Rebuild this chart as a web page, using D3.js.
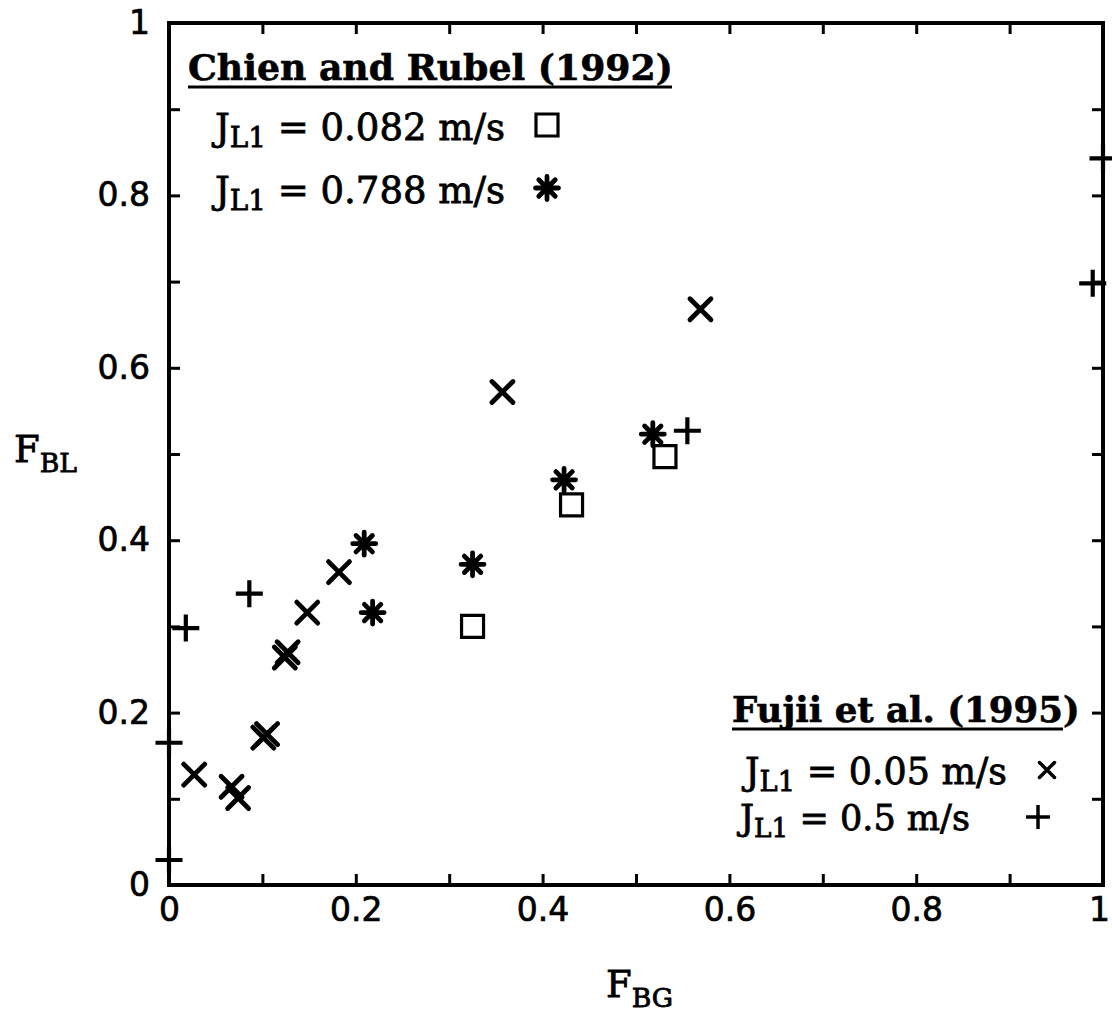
<!DOCTYPE html>
<html>
<head>
<meta charset="utf-8">
<script src="https://cdn.jsdelivr.net/npm/d3@7"></script>
<style>
body { margin: 0; background: #fff; }
</style>
</head>
<body>
<svg id="chart" width="1112" height="1012"></svg>
<script>
// Chien and Rubel (1992)
var squareData = [[0.325, 0.300], [0.431, 0.441], [0.531, 0.497]];          // J_L1 = 0.082 m/s
var starData = [[0.209, 0.396], [0.218, 0.316], [0.325, 0.372], [0.423, 0.470], [0.518, 0.523]]; // J_L1 = 0.788 m/s
// Fujii et al. (1995)
var crossData = [[0.027, 0.128], [0.067, 0.114], [0.074, 0.101], [0.101, 0.171], [0.105, 0.175],
    [0.124, 0.264], [0.127, 0.270], [0.148, 0.316], [0.182, 0.363], [0.357, 0.572], [0.569, 0.668]]; // 0.05 m/s
var plusData = [[0.018, 0.298], [0.086, 0.338], [0.555, 0.527], [0.0, 0.165], [0.0, 0.029],
    [1.0, 0.843], [0.989, 0.698]]; // 0.5 m/s
var ticks = [0, 0.1, 0.2, 0.3, 0.4, 0.5, 0.6, 0.7, 0.8, 0.9, 1];

var svg = d3.select("#chart");
var x = d3.scaleLinear().domain([0, 1]).range([169, 1103]);
var y = d3.scaleLinear().domain([0, 1]).range([885, 23]);

var fmt = function (d) {
    var k = Math.round(d * 10);
    if (k % 2) return "";
    return k == 0 ? "0" : k == 10 ? "1" : "0." + k;
};

function styleAxis(g) {
    g.select(".domain").remove();
    g.attr("font-family", "'DejaVu Sans', sans-serif").attr("font-size", 33);
    g.selectAll(".tick line").attr("stroke", "#000").attr("stroke-width", 3);
    g.selectAll(".tick text").attr("fill", "#000")
        .attr("stroke", "#000").attr("stroke-width", 0.7);
}

var bottom = svg.append("g").attr("transform", "translate(0,885)")
    .call(d3.axisBottom(x).tickValues(ticks).tickSize(-11).tickPadding(13).tickFormat(fmt))
    .call(styleAxis);
// last label sits on the page edge, nudge it in a little
bottom.selectAll(".tick text").filter(function (d) { return d == 1; }).attr("dx", -4);
svg.append("g").attr("transform", "translate(0,23)")
    .call(d3.axisTop(x).tickValues(ticks).tickSize(-11).tickFormat(""))
    .call(styleAxis);
svg.append("g").attr("transform", "translate(169,0)")
    .call(d3.axisLeft(y).tickValues(ticks).tickSize(-11).tickPadding(19).tickFormat(fmt))
    .call(styleAxis);
svg.append("g").attr("transform", "translate(1103,0)")
    .call(d3.axisRight(y).tickValues(ticks).tickSize(-11).tickFormat(""))
    .call(styleAxis);

svg.append("rect")
    .attr("x", x(0)).attr("y", y(1))
    .attr("width", x(1) - x(0)).attr("height", y(0) - y(1))
    .attr("fill", "none").attr("stroke", "#000").attr("stroke-width", 4);

// marker shapes, drawn around 0,0
var shapes = {
    square: function () { return "M-11,-11H11V11H-11Z"; },
    cross: function (r) { r = r || 10.5; return "M" + -r + "," + -r + "L" + r + "," + r + "M" + -r + "," + r + "L" + r + "," + -r; },
    plus: function (r) { r = r || 13.5; return "M" + -r + ",0H" + r + "M0," + -r + "V" + r; },
    star: function () {
        var p = d3.path(), r = 11.5, a = 8.2;
        p.moveTo(0, -r); p.lineTo(0, r);
        p.moveTo(-r, 0); p.lineTo(r, 0);
        p.moveTo(-a, -a); p.lineTo(a, a);
        p.moveTo(-a, a); p.lineTo(a, -a);
        return p.toString();
    }
};
var widths = { square: 3.2, cross: 4.8, plus: 4.2, star: 4.8 };

function drawPoints(datas, kind) {
    svg.append("g").selectAll("path").data(datas).enter().append("path")
        .attr("transform", function (d) {
            return "translate(" + x(d[0]) + "," + y(d[1]) + ")";
        })
        .attr("d", shapes[kind]())
        .attr("fill", "none")
        .attr("stroke", "#000")
        .attr("stroke-width", widths[kind])
        .attr("stroke-linecap", kind == "plus" ? "butt" : "round");
}
drawPoints(squareData, "square");
drawPoints(starData, "star");
drawPoints(crossData, "cross");
drawPoints(plusData, "plus");

// legend text helpers
var serif = "'DejaVu Serif', serif";
function fitText(t, target) {
    var base = +t.attr("font-size");
    var w = t.node().getComputedTextLength();
    t.attr("font-size", base * target / w);
}
function title(tx, ty, str, target, ulEnd) {
    var t = svg.append("text").attr("x", tx).attr("y", ty)
        .attr("font-family", serif).attr("font-weight", "bold")
        .attr("stroke", "#000").attr("stroke-width", 0.6)
        .attr("font-size", 36).text(str);
    fitText(t, target);
    svg.append("line").attr("x1", tx).attr("x2", ulEnd)
        .attr("y1", ty + 7).attr("y2", ty + 7)
        .attr("stroke", "#000").attr("stroke-width", 3);
}
function jRow(tx, ty, rest, target) {
    var t = svg.append("text").attr("x", tx).attr("y", ty)
        .attr("font-family", serif).attr("font-size", 36)
        .attr("stroke", "#000").attr("stroke-width", 0.8);
    t.append("tspan").text("J");
    t.append("tspan").attr("font-size", "0.75em").attr("dy", 7).text("L1");
    t.append("tspan").attr("dy", -7).text(" = " + rest);
    fitText(t, target);
}

title(188, 80, "Chien and Rubel (1992)", 485, 672);
jRow(215, 140, "0.082 m/s", 290);
jRow(215, 203, "0.788 m/s", 290);
svg.append("path").attr("transform", "translate(547,125)").attr("d", shapes.square())
    .attr("fill", "none").attr("stroke", "#000").attr("stroke-width", 3.2);
svg.append("path").attr("transform", "translate(547,188)").attr("d", shapes.star())
    .attr("fill", "none").attr("stroke", "#000").attr("stroke-width", 4.8).attr("stroke-linecap", "round");

title(732, 722, "Fujii et al. (1995)", 348, 1063);
jRow(745, 784, "0.05 m/s", 262);
jRow(740, 830, "0.5 m/s", 230);
svg.append("path").attr("transform", "translate(1047,770)").attr("d", shapes.cross(7.5))
    .attr("fill", "none").attr("stroke", "#000").attr("stroke-width", 3.5).attr("stroke-linecap", "round");
svg.append("path").attr("transform", "translate(1038,817)").attr("d", shapes.plus(12))
    .attr("fill", "none").attr("stroke", "#000").attr("stroke-width", 3.5);

// axis titles
function axisTitle(tx, ty, sub) {
    var t = svg.append("text").attr("x", tx).attr("y", ty)
        .attr("font-family", serif).attr("font-size", 37)
        .attr("stroke", "#000").attr("stroke-width", 0.8);
    t.append("tspan").text("F");
    t.append("tspan").attr("font-size", "0.72em").attr("dy", 10).text(sub);
}
axisTitle(14, 462, "BL");
axisTitle(606, 997, "BG");
</script>
</body>
</html>
